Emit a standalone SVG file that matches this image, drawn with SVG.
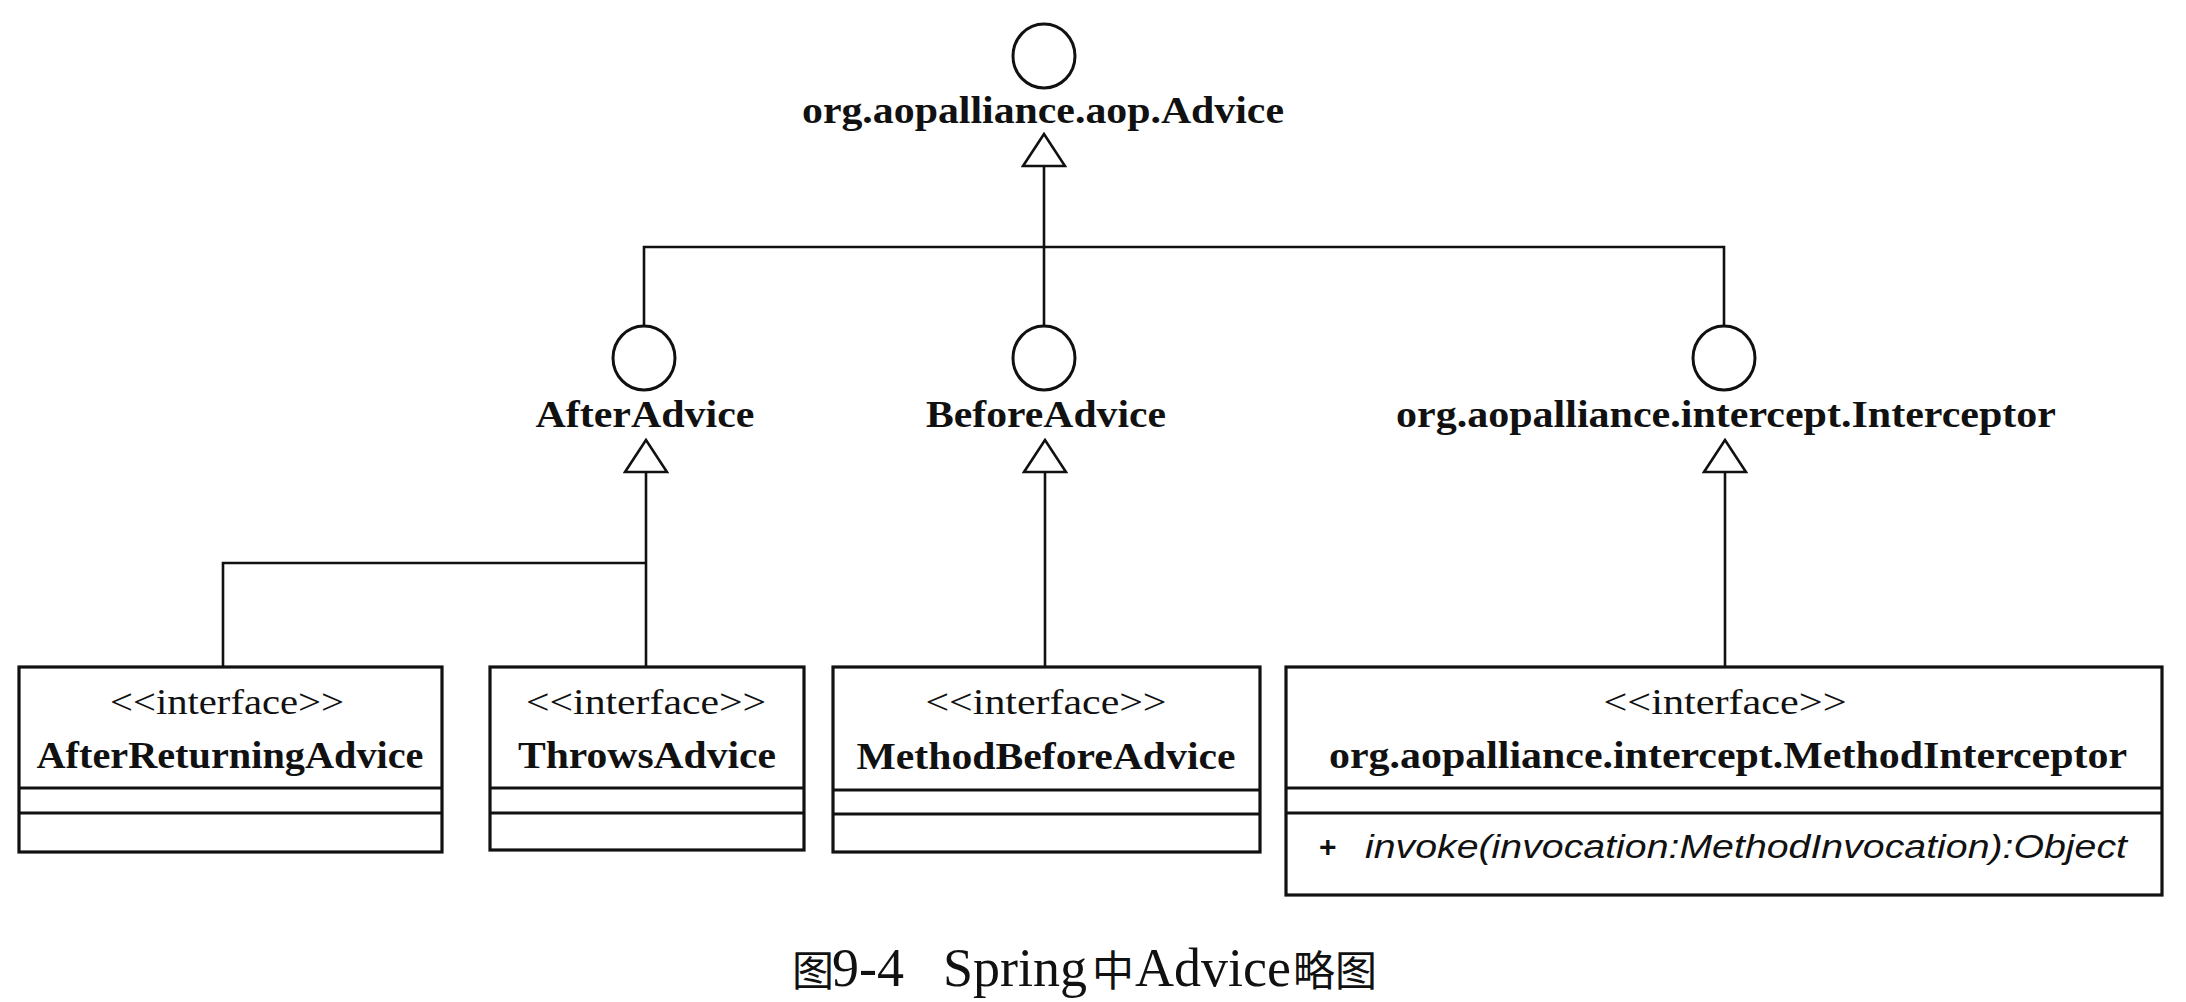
<svg xmlns="http://www.w3.org/2000/svg" width="2186" height="1002" viewBox="0 0 2186 1002">
<style>
.lbl{font-family:"Liberation Serif","Times New Roman",serif;font-weight:bold;font-size:38px;fill:#111;text-anchor:middle}
.st{font-family:"Liberation Serif","Times New Roman",serif;font-size:35px;fill:#111;text-anchor:middle}
.op{font-family:"Liberation Sans",Arial,sans-serif;font-style:italic;font-size:34px;fill:#111}
.pl{font-family:"Liberation Sans",Arial,sans-serif;font-weight:bold;font-size:30px;fill:#111}
.iface{fill:#fff;stroke:#111;stroke-width:3}
.box{fill:#fff;stroke:#111;stroke-width:3.2}
.div{stroke:#111;stroke-width:3}
.con{fill:none;stroke:#111;stroke-width:2.6}
.cap{font-family:"Liberation Serif","Noto Sans CJK SC",serif;fill:#111}
.cjk{font-family:"Noto Sans CJK SC",sans-serif;font-size:42px}
.lat{font-family:"Liberation Serif","Times New Roman",serif;font-size:54px}
</style>
<defs>
<marker id="gen" markerUnits="userSpaceOnUse" viewBox="-2 -2 36 46" refX="32" refY="21" markerWidth="36" markerHeight="46" orient="auto">
<path d="M0,0 L32,21 L0,42 Z" fill="#fff" stroke="#111" stroke-width="2.6" stroke-linejoin="miter"/>
</marker>
</defs>
<rect width="2186" height="1002" fill="#fff"/>
<g id="connectors">
<path class="con" d="M1044,326 V134" marker-end="url(#gen)"/>
<path class="con" d="M644,326 V247 H1044"/>
<path class="con" d="M1724,326 V247 H1044"/>
<path class="con" d="M646,667 V440" marker-end="url(#gen)"/>
<path class="con" d="M223,667 V563 H646"/>
<path class="con" d="M1045,667 V440" marker-end="url(#gen)"/>
<path class="con" d="M1725,667 V440" marker-end="url(#gen)"/>
</g>
<g id="advice">
<ellipse class="iface" cx="1044" cy="56" rx="31" ry="32"/>
<text class="lbl" x="1043" y="123" textLength="482" lengthAdjust="spacingAndGlyphs">org.aopalliance.aop.Advice</text>
</g>
<g id="afterAdvice">
<ellipse class="iface" cx="644" cy="358" rx="31" ry="32"/>
<text class="lbl" x="645" y="427" textLength="219" lengthAdjust="spacingAndGlyphs">AfterAdvice</text>
</g>
<g id="beforeAdvice">
<ellipse class="iface" cx="1044" cy="358" rx="31" ry="32"/>
<text class="lbl" x="1046" y="427" textLength="240" lengthAdjust="spacingAndGlyphs">BeforeAdvice</text>
</g>
<g id="interceptor">
<ellipse class="iface" cx="1724" cy="358" rx="31" ry="32"/>
<text class="lbl" x="1726" y="427" textLength="660" lengthAdjust="spacingAndGlyphs">org.aopalliance.intercept.Interceptor</text>
</g>
<g id="afterReturningAdvice">
<rect class="box" x="19" y="667" width="423" height="185"/>
<line class="div" x1="19" y1="788" x2="442" y2="788"/>
<line class="div" x1="19" y1="813" x2="442" y2="813"/>
<text class="st" x="227" y="714" textLength="234" lengthAdjust="spacingAndGlyphs">&lt;&lt;interface&gt;&gt;</text>
<text class="lbl" x="230" y="768" textLength="387" lengthAdjust="spacingAndGlyphs">AfterReturningAdvice</text>
</g>
<g id="throwsAdvice">
<rect class="box" x="490" y="667" width="314" height="183"/>
<line class="div" x1="490" y1="788" x2="804" y2="788"/>
<line class="div" x1="490" y1="813" x2="804" y2="813"/>
<text class="st" x="646" y="714" textLength="240" lengthAdjust="spacingAndGlyphs">&lt;&lt;interface&gt;&gt;</text>
<text class="lbl" x="647" y="768" textLength="258" lengthAdjust="spacingAndGlyphs">ThrowsAdvice</text>
</g>
<g id="methodBeforeAdvice">
<rect class="box" x="833" y="667" width="427" height="185"/>
<line class="div" x1="833" y1="790" x2="1260" y2="790"/>
<line class="div" x1="833" y1="814" x2="1260" y2="814"/>
<text class="st" x="1046" y="714" textLength="241" lengthAdjust="spacingAndGlyphs">&lt;&lt;interface&gt;&gt;</text>
<text class="lbl" x="1046" y="769" textLength="379" lengthAdjust="spacingAndGlyphs">MethodBeforeAdvice</text>
</g>
<g id="methodInterceptor">
<rect class="box" x="1286" y="667" width="876" height="228"/>
<line class="div" x1="1286" y1="788" x2="2162" y2="788"/>
<line class="div" x1="1286" y1="813" x2="2162" y2="813"/>
<text class="st" x="1725" y="714" textLength="243" lengthAdjust="spacingAndGlyphs">&lt;&lt;interface&gt;&gt;</text>
<text class="lbl" x="1728" y="768" textLength="798" lengthAdjust="spacingAndGlyphs">org.aopalliance.intercept.MethodInterceptor</text>
<text class="pl" x="1319" y="857">+</text>
<text class="op" x="1365" y="858" textLength="762" lengthAdjust="spacingAndGlyphs">invoke(invocation:MethodInvocation):Object</text>
</g>
<g id="caption">
<text class="cap" y="986"><tspan class="cjk" x="792">图</tspan><tspan class="lat" x="832">9-4</tspan><tspan class="lat" x="943">Spring</tspan><tspan class="cjk" x="1092">中</tspan><tspan class="lat" x="1135">Advice</tspan><tspan class="cjk" x="1293">略图</tspan></text>
</g>
</svg>
